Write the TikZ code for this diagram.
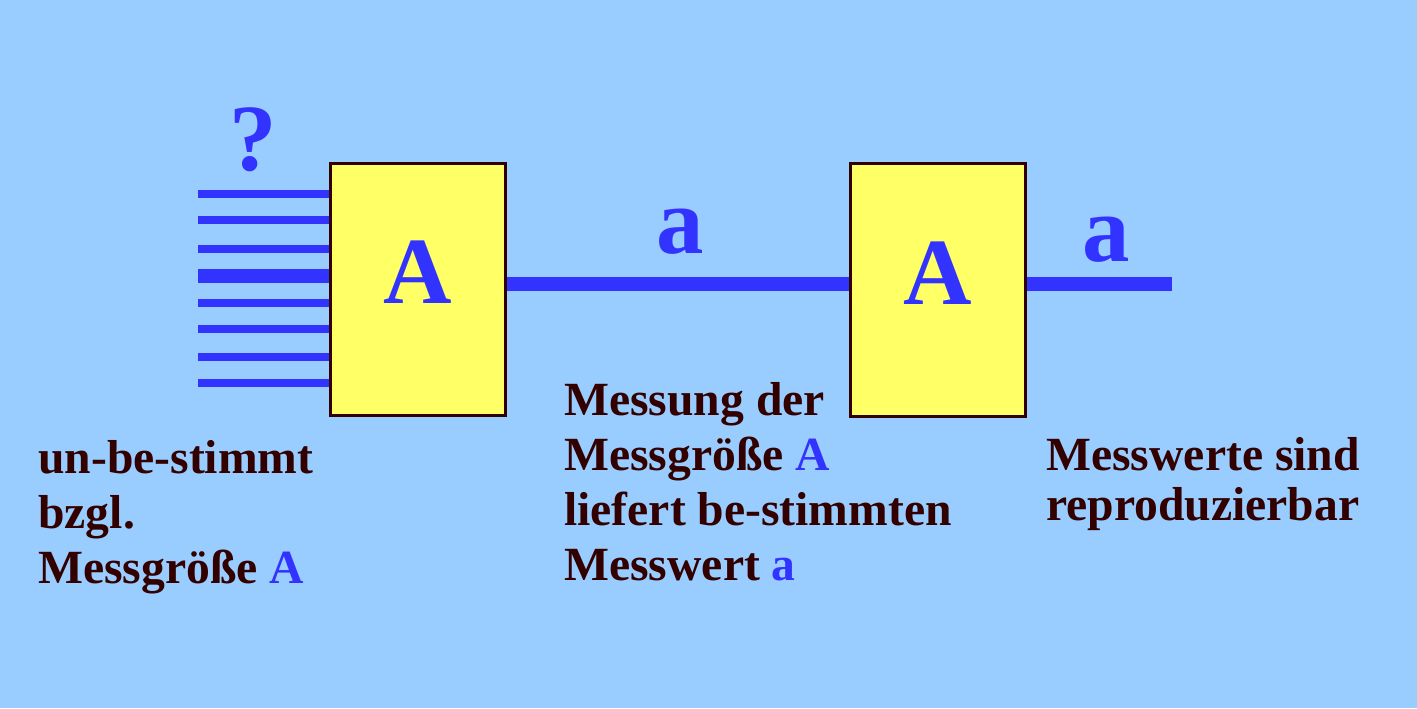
\documentclass[tikz,border=0pt]{standalone}
\usepackage{fontspec}
\setmainfont{Liberation Serif}
\usepackage{xcolor}
\usetikzlibrary{positioning}

\definecolor{bgblue}{HTML}{99CCFF}
\definecolor{boxyellow}{HTML}{FFFF66}
\definecolor{sigblue}{HTML}{3333FF}
\definecolor{darkbrown}{HTML}{330000}

\begin{document}
\begin{tikzpicture}[
    x=0.02cm, y=-0.02cm,
    box/.style={rectangle, draw=darkbrown, line width=1.7pt, fill=boxyellow, minimum width=3.52cm, minimum height=5.06cm, inner sep=0pt, text depth=0.68cm, font=\fontsize{54}{60}\selectfont\bfseries, text=sigblue},
    signal/.style={sigblue, line width=4pt},
    thicksignal/.style={sigblue, line width=7.6pt},
    big/.style={font=\fontsize{54}{60}\selectfont\bfseries, text=sigblue, inner sep=0pt, anchor=base},
    txt/.style={font=\fontsize{27.1}{31.3}\selectfont\bfseries, text=darkbrown, align=left, inner sep=0pt, anchor=base west}
]
    % Background
    \fill[bgblue] (0,0) rectangle (1417,708);
    \useasboundingbox (0,0) rectangle (1417,708);

    % Boxes
    \node[box] (boxA) at (418,289.5) {A};
    \node[box] (boxB) at (938,290) {A};

    % Undetermined inputs
    \foreach \y in {194,220,249,303,329,357,383}
        \draw[signal] (198,\y) -- (boxA.west |- 0,\y);
    \draw[thicksignal] (198,276) -- (boxA.west |- 0,276);
    \node[big] (quest) at (253,170) {?};

    % Measured values
    \coordinate (out) at (1172,284);
    \draw[line width=8pt, sigblue] (boxA.east |- out) -- (boxB.west |- out);
    \draw[line width=8pt, sigblue] (boxB.east |- out) -- (out);
    \node[big] (valA) at (680,253) {a};
    \node[big] (valB) at (1106,261) {a};

    % Texts (anchored at the last line)
    \node[txt] (undet) at (38,583) {un-be-stimmt\\bzgl.\\Messgröße \textcolor{sigblue}{A}};
    \node[txt] (meas) at (564,580) {Messung der\\Messgröße \textcolor{sigblue}{A}\\liefert be-stimmten\\Messwert \textcolor{sigblue}{a}};
    \node[txt, font=\fontsize{27.1}{28.45}\selectfont\bfseries] (repro) at (1046,520) {Messwerte sind\\reproduzierbar};
\end{tikzpicture}
\end{document}
